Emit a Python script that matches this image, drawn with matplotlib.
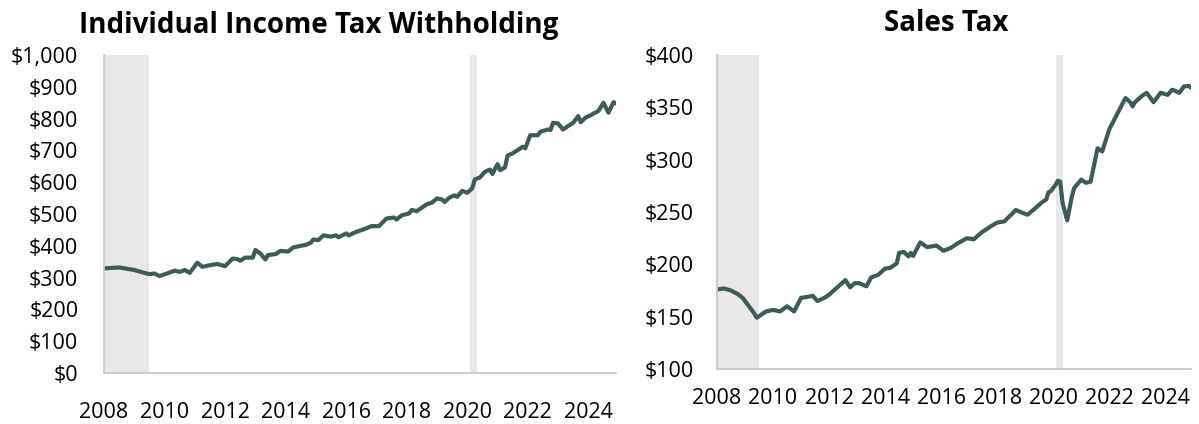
import matplotlib.pyplot as plt

plt.rcParams['font.family'] = ['Open Sans', 'DejaVu Sans']

# months since Jan 2008, values in $ millions
wh_month = [0, 6, 12, 16, 18, 20, 22, 25, 28, 30, 32, 34, 37, 39, 42, 45, 48,
            51, 53, 54, 56, 59, 60, 62, 64, 65, 68, 70, 73, 75, 78, 80, 82, 83,
            85, 87, 90, 92, 93, 96, 97, 100, 103, 106, 109, 112, 115, 116, 118,
            121, 122, 124, 128, 130, 132, 134, 135, 137, 139, 140, 142, 144,
            146, 147, 149, 151, 153, 154, 156, 157, 159, 160, 162, 164, 166,
            167, 169, 172, 173, 176, 177, 178, 180, 182, 184, 186, 188, 189,
            191, 193, 194, 196, 198, 200, 202, 203]
wh_value = [329, 332, 324, 315, 311, 313, 305, 313, 322, 318, 324, 315, 347,
            334, 339, 343, 336, 360, 358, 353, 363, 363, 387, 376, 357, 371,
            374, 384, 382, 395, 400, 403, 410, 420, 418, 433, 429, 433, 427,
            439, 433, 444, 452, 462, 462, 486, 489, 483, 496, 502, 513, 509,
            531, 536, 549, 546, 538, 552, 559, 554, 573, 567, 581, 609, 615,
            633, 640, 626, 657, 638, 647, 684, 691, 701, 712, 707, 748, 748,
            759, 766, 764, 787, 785, 766, 777, 787, 808, 789, 804, 811, 816,
            824, 850, 819, 852, 848]

st_month = [0, 3, 6, 9, 11, 13, 16, 17, 19, 21, 24, 27, 30, 33, 36, 39, 41,
            43, 46, 48, 51, 53, 55, 57, 59, 61, 64, 66, 69, 72, 74, 77, 78, 80,
            82, 83, 84, 87, 90, 94, 97, 100, 103, 107, 110, 113, 117, 120, 123,
            126, 128, 130, 133, 136, 139, 141, 142, 143, 145, 146, 147, 148,
            150, 152, 153, 156, 158, 160, 163, 165, 168, 171, 174, 175, 177,
            178, 179, 182, 184, 187, 190, 193, 195, 198, 200, 202, 203]
st_value = [176, 177, 175, 171.5, 168, 162, 153, 149, 152, 155, 156.5, 155,
            160, 155, 168, 169, 170, 165, 168, 171, 177, 181, 185, 178, 182,
            182, 179, 187.5, 190, 196, 196.5, 201, 211, 212, 207.6, 211, 208,
            221, 216.5, 218, 213, 215.6, 220, 225, 224, 230, 236, 240, 241,
            247.5, 252, 250, 247.5, 253, 259, 262, 269, 270, 276, 280, 279,
            259, 242, 265, 273, 281, 278, 279, 311, 308, 329, 342, 355, 359,
            355, 351, 355, 361, 364, 355, 364, 362, 367, 364, 370, 370.6, 369]

year_ticks = [0, 24, 48, 72, 96, 120, 144, 168, 192]
year_labels = ['2008', '2010', '2012', '2014', '2016', '2018', '2020', '2022', '2024']
recessions = [(0, 18), (145, 148)]

line_color = '#3d5c59'
band_color = '#e8e8e8'
axis_color = '#c8c8c8'

fig = plt.figure(figsize=(11.99, 4.24), dpi=100)
ax1 = fig.add_axes([0.0867, 0.1203, 0.4271, 0.7497])
ax2 = fig.add_axes([0.598, 0.1297, 0.3953, 0.7403])


def style_axis(ax, ylim, yticks, ylabels, ypad, xpad):
    for a, b in recessions:
        ax.axvspan(a, b, color=band_color, lw=0, zorder=0)
    ax.set_xlim(0, 203)
    ax.set_ylim(*ylim)
    ax.set_yticks(yticks)
    ax.set_yticklabels(ylabels)
    ax.set_xticks(year_ticks)
    ax.set_xticklabels(year_labels)
    ax.tick_params(axis='y', length=0, pad=ypad, labelsize=15.5)
    ax.tick_params(axis='x', length=0, pad=xpad, labelsize=15.5)
    for side in ['top', 'right']:
        ax.spines[side].set_visible(False)
    for side in ['left', 'bottom']:
        ax.spines[side].set_color(axis_color)
        ax.spines[side].set_linewidth(1.3)


ax1.plot(wh_month, wh_value, color=line_color, lw=3, solid_joinstyle='round')
style_axis(ax1, (0, 1000), range(0, 1001, 100),
           ['$0', '$100', '$200', '$300', '$400', '$500', '$600', '$700',
            '$800', '$900', '$1,000'], 18.5, 21)

ax2.plot(st_month, st_value, color=line_color, lw=3, solid_joinstyle='round')
style_axis(ax2, (100, 400), range(100, 401, 50),
           ['$100', '$150', '$200', '$250', '$300', '$350', '$400'], 16.5, 14)

fig.text(0.266, 0.922, 'Individual Income Tax Withholding', ha='center',
         va='baseline', fontsize=20, fontweight='bold')
fig.text(0.789, 0.927, 'Sales Tax', ha='center', va='baseline',
         fontsize=20, fontweight='bold')

fig.savefig('out.png', dpi=100)
